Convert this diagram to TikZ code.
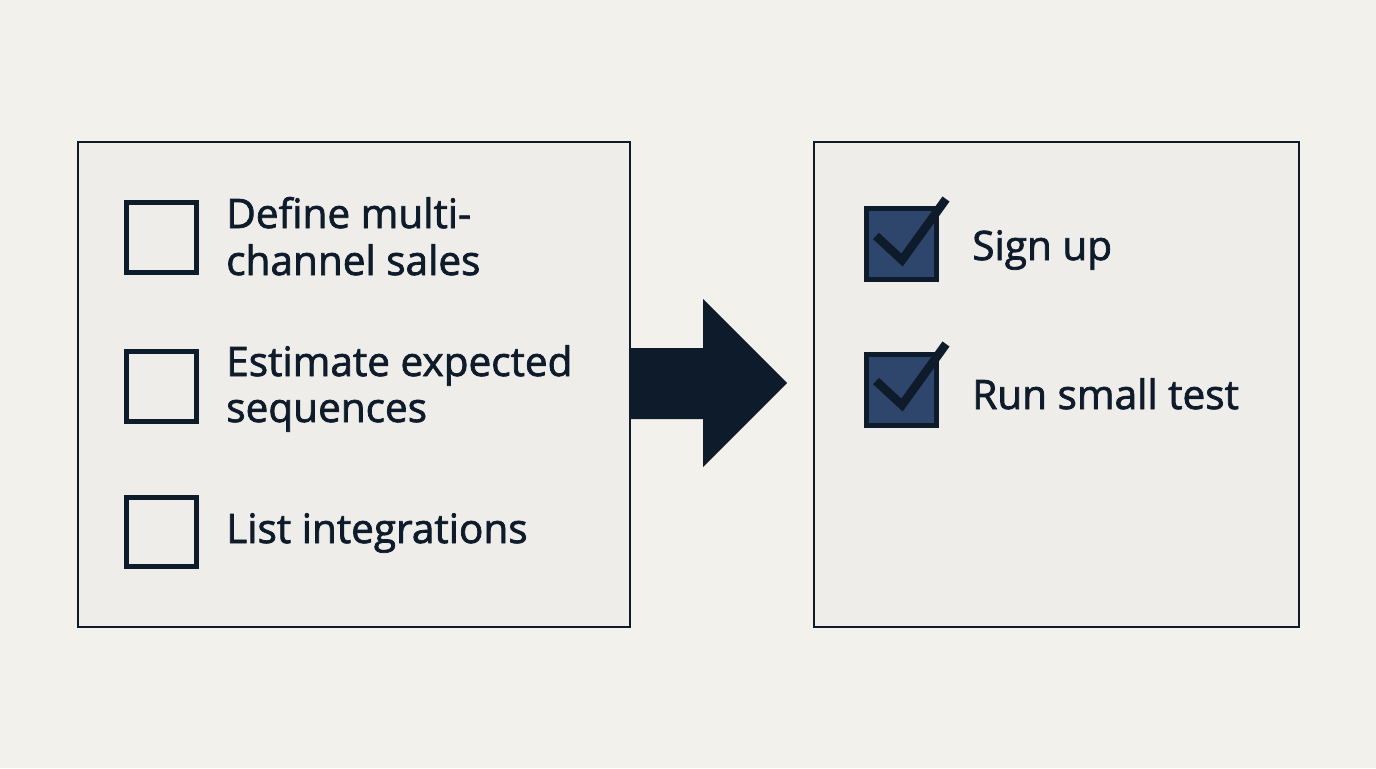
\documentclass[tikz,border=0pt]{standalone}
\usepackage{fontspec}
\setmainfont{Open Sans}
\newfontfamily\lblfont[FakeBold=1.8]{Open Sans}
\definecolor{bg}{HTML}{F3F1EC}
\definecolor{panel}{HTML}{EEEDE9}
\definecolor{ink}{HTML}{0E1B2A}
\definecolor{chk}{HTML}{2E456C}
\begin{document}
\begin{tikzpicture}[x=0.75pt,y=-0.75pt,
  panelbox/.style={draw=ink,fill=panel,line width=1.5pt},
  emptybox/.style={draw=ink,line width=3.8pt,minimum size=52pt,inner sep=0pt},
  fullbox/.style={draw=ink,fill=chk,line width=3.8pt,minimum size=53pt,inner sep=0pt},
  label/.style={anchor=base west,text=ink,font=\lblfont\fontsize{30.4}{38}\selectfont,inner sep=0pt,align=left},
  tick/.style={draw=ink,line width=6.5pt}]
\useasboundingbox[fill=bg] (0,0) rectangle (1376,768);
\node[panelbox,minimum width=414pt,minimum height=364pt,anchor=north west] (L) at (77,141) {};
\node[panelbox,minimum width=364pt,minimum height=364pt,anchor=north west] (R) at (813,141) {};
% arrow
\fill[ink] (631,348) -- (703,348) -- (703,299) -- (787,383) -- (703,467) -- (703,419) -- (631,419) -- cycle;
% left items
\node[emptybox] (b1) at (161.5,237.5) {};
\node[emptybox] (b2) at (161.5,386.5) {};
\node[emptybox] (b3) at (161.5,532) {};
\node[label] (t1) at (226,228) {Define multi-};
\node[label] (t1b) at (226,275) {channel sales};
\node[label] (t2) at (226,376) {Estimate expected};
\node[label] (t2b) at (226,422) {sequences};
\node[label] (t3) at (226,543) {List integrations};
% right items
\node[fullbox] (c1) at (901.5,244) {};
\node[fullbox] (c2) at (901.5,390) {};
\coordinate (k1a) at (876,236);
\coordinate (k1b) at (902,260);
\coordinate (k1c) at (946,199);
\coordinate (k2a) at (876,381);
\coordinate (k2b) at (902,405);
\coordinate (k2c) at (946,344);
\draw[tick] (k1a) -- (k1b) -- (k1c);
\draw[tick] (k2a) -- (k2b) -- (k2c);
\node[label] (s1) at (972,260) {Sign up};
\node[label] (s2) at (972,409) {Run small test};
\end{tikzpicture}
\end{document}
